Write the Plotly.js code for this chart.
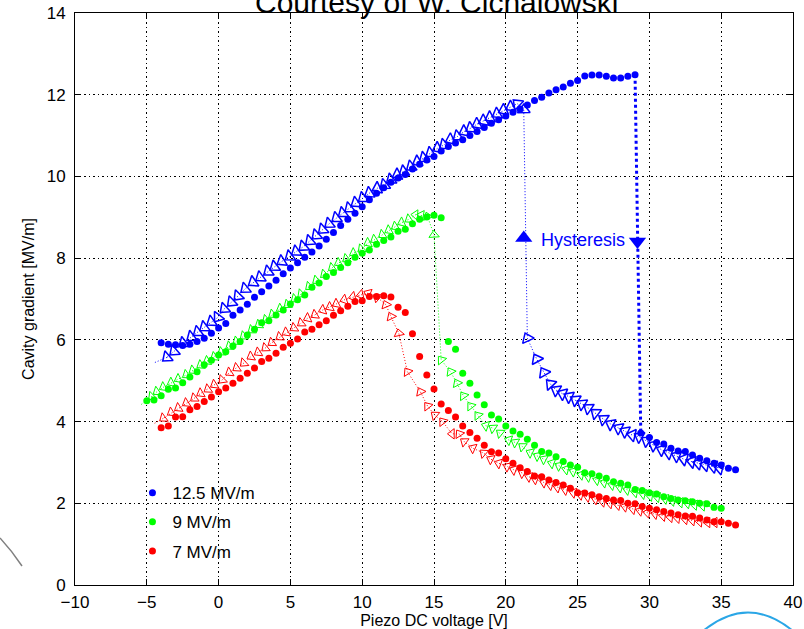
<!DOCTYPE html>
<html>
<head>
<meta charset="utf-8">
<script src="https://cdn.plot.ly/plotly-3.0.1.min.js"></script>
<style>
  html, body { margin: 0; padding: 0; background: #ffffff; }
  #chart { width: 804px; height: 629px; }
</style>
</head>
<body>
<div id="chart"></div>
<script>
// ---------------- data ----------------
// Up-sweep (filled dots), 0.5 V steps
const blueDotX = [-4,-3.5,-3,-2.5,-2,-1.5,-1,-0.5,0,0.5,1,1.5,2,2.5,3,3.5,4,4.5,5,5.5,6,6.5,7,7.5,8,8.5,9,9.5,10,10.5,11,11.5,12,12.5,13,13.5,14,14.5,15,15.5,16,16.5,17,17.5,18,18.5,19,19.5,20,20.5,21,21.5,22,22.5,23,23.5,24,24.5,25,25.5,26,26.5,27,27.5,28,28.5,29,29.4,30,30.5,31,31.5,32,32.5,33,33.5,34,34.5,35,35.5,36];
const blueDotY = [5.93,5.89,5.88,5.86,5.89,5.96,6.04,6.16,6.29,6.40,6.60,6.73,6.87,7.04,7.18,7.32,7.46,7.62,7.76,7.89,8.02,8.15,8.30,8.46,8.63,8.80,8.95,9.10,9.26,9.43,9.59,9.72,9.86,9.96,10.05,10.18,10.30,10.40,10.49,10.62,10.73,10.82,10.90,11.00,11.10,11.20,11.30,11.39,11.48,11.57,11.65,11.75,11.86,11.94,12.04,12.12,12.19,12.28,12.35,12.46,12.48,12.48,12.45,12.41,12.41,12.45,12.49,3.72,3.61,3.49,3.45,3.35,3.28,3.27,3.18,3.10,3.04,2.98,2.94,2.86,2.82];

const greenDotX = [-5,-4.5,-4,-3.5,-3,-2.5,-2,-1.5,-1,-0.5,0,0.5,1,1.5,2,2.5,3,3.5,4,4.5,5,5.5,6,6.5,7,7.5,8,8.5,9,9.5,10,10.5,11,11.5,12,12.5,13,13.5,14,14.5,15,15.5,16,16.5,17,17.5,18,18.5,19,19.5,20,20.5,21,21.5,22,22.5,23,23.5,24,24.5,25,25.5,26,26.5,27,27.5,28,28.5,29,29.5,30,30.5,31,31.5,32,32.5,33,33.5,34,34.5,35];
const greenDotY = [4.51,4.53,4.63,4.79,4.82,4.95,5.09,5.22,5.39,5.50,5.63,5.71,5.85,5.96,6.12,6.26,6.42,6.47,6.61,6.73,6.88,6.98,7.10,7.29,7.39,7.55,7.65,7.77,7.89,8.02,8.12,8.20,8.34,8.43,8.52,8.66,8.71,8.84,8.95,9.01,9.05,8.99,5.96,5.77,5.18,4.94,4.65,4.41,4.16,4.06,3.89,3.77,3.69,3.57,3.42,3.27,3.23,3.14,3.02,2.94,2.88,2.75,2.72,2.67,2.61,2.53,2.49,2.45,2.34,2.31,2.26,2.23,2.16,2.12,2.08,2.06,2.04,2.00,1.99,1.90,1.88];

const redDotX = [-4,-3.5,-3,-2.5,-2,-1.5,-1,-0.5,0,0.5,1,1.5,2,2.5,3,3.5,4,4.5,5,5.5,6,6.5,7,7.5,8,8.5,9,9.5,10,10.5,11,11.5,12,12.5,13,13.5,14,14.5,15,15.5,16,16.5,17,17.5,18,18.5,19,19.5,20,20.5,21,21.5,22,22.5,23,23.5,24,24.5,25,25.5,26,26.5,27,27.5,28,28.5,29,29.5,30,30.5,31,31.5,32,32.5,33,33.5,34,34.5,35,35.5,36];
const redDotY = [3.85,3.89,4.11,4.12,4.29,4.37,4.49,4.60,4.73,4.82,4.94,5.06,5.18,5.31,5.47,5.55,5.67,5.82,5.92,6.02,6.19,6.26,6.37,6.47,6.60,6.71,6.82,6.94,6.96,7.06,7.06,7.08,7.05,6.80,6.67,6.15,5.59,5.14,4.80,4.43,4.27,4.11,3.89,3.73,3.59,3.42,3.26,3.23,3.09,2.98,2.87,2.78,2.67,2.65,2.57,2.51,2.45,2.37,2.26,2.25,2.21,2.16,2.12,2.08,2.07,2.00,1.99,1.92,1.88,1.84,1.80,1.76,1.72,1.69,1.68,1.64,1.59,1.55,1.55,1.51,1.47];

// Down-sweep (open triangles), listed in sweep order (high voltage -> low voltage)
const blueTriX = [35.4,34.9,34.45,33.9,33.4,32.95,32.4,31.9,31.35,30.85,30.3,29.8,29.3,28.8,28.3,27.85,27.3,26.8,26.25,25.75,25.3,24.85,24.4,23.95,23.5,23.1,22.65,22.15,21.5,21.25,20.8,20.35,19.85,19.4,18.9,18.45,18.0,17.55,17.1,16.65,16.15,15.7,15.25,14.75,14.3,13.85,13.4,12.9,12.45,12.0,11.55,11.05,10.5,10.05,9.55,9.1,8.65,8.2,7.7,7.25,6.8,6.35,5.9,5.4,4.95,4.4,3.9,3.45,2.9,2.4,1.85,1.35,0.9,0.4,-0.05,-0.5,-1.0,-1.45,-1.9,-2.45,-3.1,-3.6];
const blueTriY = [2.82,2.86,2.90,2.94,2.98,3.02,3.08,3.16,3.23,3.31,3.42,3.53,3.63,3.67,3.76,3.84,3.94,4.06,4.21,4.33,4.43,4.53,4.61,4.68,4.77,4.92,5.20,5.53,6.04,11.63,11.78,11.70,11.62,11.53,11.44,11.36,11.28,11.18,11.10,10.98,10.90,10.77,10.69,10.57,10.45,10.36,10.24,10.12,10.04,9.92,9.79,9.71,9.59,9.47,9.35,9.22,9.10,8.98,8.84,8.70,8.56,8.42,8.28,8.16,8.04,7.92,7.79,7.67,7.53,7.41,7.25,7.07,6.92,6.76,6.55,6.44,6.31,6.19,6.07,5.92,5.72,5.57];

const greenTriX = [34.2,33.7,33.15,32.65,32.15,31.6,31.1,30.55,30.05,29.55,29.0,28.45,27.95,27.4,26.85,26.35,25.75,25.25,24.7,24.2,23.7,23.2,22.65,22.2,21.7,21.15,20.65,20.2,19.6,19.1,18.6,18.05,17.55,17.05,16.6,16.15,15.5,15.0,14.55,14.1,13.7,13.25,12.75,12.3,11.85,11.4,10.85,10.4,9.95,9.4,8.9,8.35,7.9,7.35,6.8,6.3,5.75,5.3,4.8,4.3,3.75,3.3,2.8,2.3,1.75,1.25,0.75,0.2,-0.3,-0.8,-1.25,-1.8,-2.25,-2.8,-3.3,-3.85,-4.3,-4.65];
const greenTriY = [1.92,1.94,1.96,2.00,2.02,2.06,2.11,2.15,2.18,2.23,2.27,2.33,2.39,2.45,2.51,2.57,2.65,2.70,2.78,2.83,2.92,2.98,3.08,3.16,3.24,3.39,3.49,3.55,3.72,3.84,3.90,4.15,4.38,4.63,4.94,5.22,5.51,8.57,9.02,9.05,9.06,8.95,8.87,8.77,8.68,8.57,8.45,8.37,8.22,8.12,7.98,7.88,7.76,7.60,7.45,7.30,7.12,7.00,6.86,6.76,6.62,6.49,6.37,6.24,6.09,5.96,5.84,5.70,5.58,5.48,5.38,5.25,5.14,5.04,4.95,4.84,4.73,4.61];

const redTriX = [35.05,34.55,34.05,33.5,33.0,32.5,31.95,31.45,30.95,30.4,29.85,29.35,28.85,28.3,27.8,27.25,26.75,26.25,25.7,25.2,24.7,24.15,23.6,23.1,22.65,22.05,21.6,21.15,20.55,20.1,19.5,18.95,18.45,17.7,17.1,16.75,16.25,15.6,15.05,14.55,14.05,13.15,12.55,12.0,11.65,11.05,10.4,9.9,9.35,8.75,8.2,7.75,7.25,6.7,6.2,5.75,5.25,4.7,4.25,3.7,3.25,2.75,2.25,1.75,1.25,0.75,0.25,-0.3,-0.75,-1.25,-1.7,-2.25,-2.8,-3.3,-3.85];
const redTriY = [1.53,1.53,1.53,1.55,1.58,1.61,1.64,1.66,1.69,1.74,1.77,1.82,1.86,1.92,1.96,2.00,2.04,2.10,2.16,2.21,2.26,2.33,2.39,2.45,2.51,2.59,2.65,2.74,2.82,2.90,2.98,3.08,3.23,3.35,3.51,3.70,3.70,4.00,4.16,4.38,4.73,5.22,6.16,6.57,6.86,7.04,7.14,7.10,7.05,6.98,6.88,6.80,6.73,6.61,6.53,6.41,6.29,6.18,6.07,5.93,5.80,5.69,5.59,5.43,5.31,5.20,5.02,4.90,4.79,4.69,4.57,4.45,4.33,4.22,4.08];

// end points of the dotted sweep lines beyond the last triangle (blue, green, red)
const sweepEndX = [-4.55, -5.42, -4.55];
const sweepEndY = [5.43, 4.41, 3.94];

// "Hysteresis" arrow heads and label
const hystX = [21.25, 29.17];
const hystY = [8.49, 8.41];
const hystLabel = 'Hysteresis';
const hystLabelX = 25.4, hystLabelY = 8.45;

const seriesNames = ['12.5 MV/m', '9 MV/m', '7 MV/m'];
const xTickVals = [-10,-5,0,5,10,15,20,25,30,35,40];
const yTickVals = [0,2,4,6,8,10,12,14];

// ---------------- styling ----------------
const FONT = 'Liberation Sans, Arial, Helvetica, sans-serif';
const BLUE = '#0000ff', GREEN = '#00ff00', RED = '#ff0000';
const THIN_DOT = '1px,2px';

function dots(x, y, c, name, grp) {
  return { type: 'scatter', mode: 'markers', x: x, y: y, name: name, legendgroup: grp,
    marker: { symbol: 'circle', size: 7, color: c, line: { width: 0 } },
    hoverinfo: 'x+y' };
}
function tris(x, y, c, size, lw) {
  return { type: 'scatter', mode: 'lines+markers', x: x, y: y, showlegend: false,
    line: { color: c, width: 1, dash: THIN_DOT },
    marker: { symbol: 'triangle-up-open', size: size, color: c, angleref: 'previous',
              line: { width: lw, color: c } },
    hoverinfo: 'x+y' };
}
function tail(x, y, i, c) {
  const n = x.length - 1;
  return { type: 'scatter', mode: 'lines', showlegend: false, hoverinfo: 'skip',
    x: [x[n], sweepEndX[i]], y: [y[n], sweepEndY[i]],
    line: { color: c, width: 1, dash: THIN_DOT } };
}
// thick dotted vertical line where the blue up-sweep drops
let k = 0, best = 0;
for (let i = 0; i < blueDotY.length - 1; i++) {
  const d = blueDotY[i] - blueDotY[i + 1];
  if (d > best) { best = d; k = i; }
}
const blueDrop = { type: 'scatter', mode: 'lines', showlegend: false, hoverinfo: 'skip',
  x: [blueDotX[k], blueDotX[k + 1]], y: [blueDotY[k], blueDotY[k + 1]],
  line: { color: BLUE, width: 3, dash: '3px,3px' } };

const data = [
  tris(blueTriX, blueTriY, BLUE, 11, 1.5),
  tris(greenTriX, greenTriY, GREEN, 9, 1),
  tris(redTriX, redTriY, RED, 9, 1),
  tail(blueTriX, blueTriY, 0, BLUE),
  tail(greenTriX, greenTriY, 1, GREEN),
  tail(redTriX, redTriY, 2, RED),
  blueDrop,
  dots(blueDotX, blueDotY, BLUE, seriesNames[0], 'g1'),
  dots(greenDotX, greenDotY, GREEN, seriesNames[1], 'g2'),
  dots(redDotX, redDotY, RED, seriesNames[2], 'g3'),
  { type: 'scatter', mode: 'markers', x: hystX, y: hystY, showlegend: false, hoverinfo: 'skip',
    marker: { symbol: ['triangle-up', 'triangle-down'], size: 15, color: BLUE } }
];

const axisCommon = {
  showline: true, linecolor: '#000', linewidth: 1, mirror: 'ticks',
  ticks: 'inside', ticklen: 6, tickcolor: '#000', tickwidth: 1,
  showgrid: true, gridcolor: '#000', gridwidth: 1, griddash: '1.5px,3px',
  zeroline: false, tickfont: { family: FONT, size: 17, color: '#000' }
};

// paper coordinates helpers for decorations outside the axes
const L = 75, R = 11, T = 13, B = 44, W = 804, H = 629;
const pw = W - L - R, ph = H - T - B;
const px = v => (v - L) / pw, py = v => (H - B - v) / ph;

const layout = {
  width: W, height: H,
  margin: { l: L, r: R, t: T, b: B, pad: 0 },
  paper_bgcolor: '#fff', plot_bgcolor: '#fff',
  font: { family: FONT, color: '#000' },
  showlegend: true,
  legend: { x: 0.08, y: 0.192, xanchor: 'left', yanchor: 'top',
    bgcolor: 'rgba(0,0,0,0)', borderwidth: 0, traceorder: 'grouped',
    font: { family: FONT, size: 17, color: '#000' }, tracegroupgap: 4, itemwidth: 30 },
  xaxis: Object.assign({}, axisCommon, {
    range: [-10, 40], tickvals: xTickVals, ticklabelstandoff: 2,
    title: { text: 'Piezo DC voltage [V]', font: { family: FONT, size: 16, color: '#000' }, standoff: 1 }
  }),
  yaxis: Object.assign({}, axisCommon, {
    range: [0, 14], tickvals: yTickVals, ticklabelstandoff: 5,
    title: { text: 'Cavity gradient [MV/m]', font: { family: FONT, size: 16, color: '#000' }, standoff: 8 }
  }),
  annotations: [
    { xref: 'paper', yref: 'paper', x: 0.503, y: 1 + 11 / ph, xanchor: 'center', yanchor: 'middle',
      text: 'Courtesy of W. Cichalowski', showarrow: false,
      font: { family: FONT, size: 30, color: '#000' } },
    { xref: 'x', yref: 'y', x: hystLabelX, y: hystLabelY, xanchor: 'center', yanchor: 'middle',
      text: hystLabel, showarrow: false, font: { family: FONT, size: 18, color: BLUE } }
  ],
  shapes: [
    { type: 'path', xref: 'paper', yref: 'paper', layer: 'above',
      path: 'M ' + px(0) + ' ' + py(538) + ' Q ' + px(12) + ' ' + py(551) + ' ' + px(22) + ' ' + py(566),
      line: { color: '#808080', width: 1.5 } },
    { type: 'path', xref: 'paper', yref: 'paper', layer: 'above',
      path: 'M ' + px(703) + ' ' + py(631) + ' Q ' + px(748) + ' ' + py(594) + ' ' + px(793) + ' ' + py(631),
      line: { color: '#2aa6e6', width: 2 } }
  ]
};

Plotly.newPlot('chart', data, layout, { staticPlot: true, displayModeBar: false });
</script>
</body>
</html>
